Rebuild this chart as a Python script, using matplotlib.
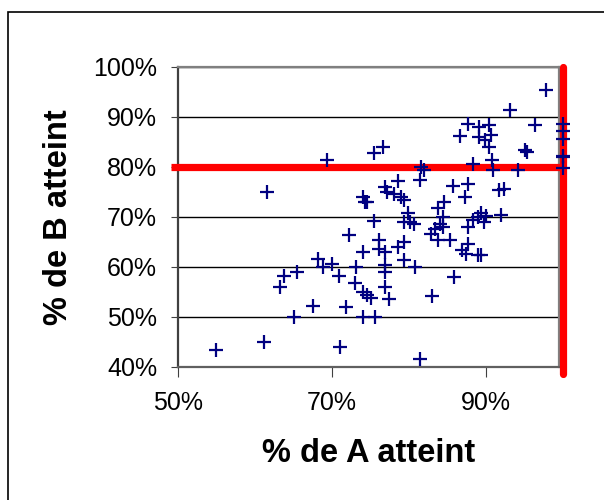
import matplotlib
matplotlib.use("Agg")
import matplotlib.pyplot as plt
from matplotlib.ticker import PercentFormatter
from matplotlib.patches import Rectangle

plt.rcParams['font.family'] = ['Liberation Sans', 'DejaVu Sans']

# % de A atteint (x) and % de B atteint (y), in percent
a_pct = [54.9, 61.2, 61.6, 63.2, 63.8, 65.4, 65.1, 67.5, 68.2, 68.8,
         69.3, 70.0, 70.9, 71.0, 71.8, 72.2, 73.1, 73.0, 74.0, 74.0,
         74.0, 74.0, 74.3, 74.6, 74.6, 75.1, 75.6, 75.5, 75.5, 76.6,
         76.1, 76.1, 76.9, 77.1, 76.9, 76.9, 76.9, 76.9, 77.4, 78.0,
         78.6, 78.9, 79.3, 78.6, 79.3, 79.3, 79.3, 79.9, 80.1, 80.6,
         80.8, 81.4, 81.4, 81.6, 81.9, 83.0, 82.9, 83.4, 83.8, 83.8,
         84.0, 84.4, 84.6, 84.4, 85.3, 85.8, 85.7, 86.6, 87.6, 87.6,
         87.3, 88.3, 86.9, 87.4, 87.6, 87.6, 88.3, 89.1, 89.1, 88.9,
         89.4, 88.9, 89.4, 89.8, 90.0, 89.9, 90.4, 90.4, 90.6, 90.8,
         90.9, 91.7, 92.3, 92.0, 93.1, 94.1, 95.0, 95.3, 96.4, 97.8,
         100.0, 100.0, 100.0, 100.0, 100.0, 100.0]
b_pct = [43.4, 45.0, 74.9, 56.0, 58.3, 59.1, 50.0, 52.2, 61.7, 60.1,
         81.4, 60.7, 58.2, 44.1, 52.1, 66.5, 60.1, 56.9, 63.1, 55.1,
         50.0, 73.9, 73.1, 72.9, 54.4, 53.9, 50.0, 69.2, 82.7, 84.0,
         65.4, 63.7, 76.0, 75.0, 63.1, 60.4, 59.1, 56.1, 53.6, 74.6,
         77.2, 74.1, 73.4, 64.1, 65.1, 61.4, 69.1, 70.7, 69.1, 68.7,
         60.1, 41.6, 77.4, 80.0, 79.5, 54.2, 66.7, 67.7, 65.4, 71.7,
         68.7, 70.1, 73.1, 68.1, 65.5, 58.0, 76.2, 86.2, 88.7, 76.7,
         74.1, 80.7, 63.4, 62.7, 64.7, 68.1, 69.4, 88.0, 86.0, 62.4,
         62.4, 70.1, 70.7, 69.1, 70.2, 85.4, 88.4, 84.0, 86.4, 81.5,
         79.4, 75.5, 75.7, 70.4, 91.5, 79.5, 83.4, 83.0, 88.4, 95.5,
         88.7, 87.3, 85.7, 82.3, 82.0, 79.9]

target_a = 1.0
target_b = 0.8
x_ticks = [0.5, 0.7, 0.9]
y_ticks = [0.4, 0.5, 0.6, 0.7, 0.8, 0.9, 1.0]

a = [v / 100 for v in a_pct]
b = [v / 100 for v in b_pct]

fig = plt.figure(figsize=(6.04, 5.0), dpi=100)
ax = fig.add_axes([178 / 604, 1 - 367 / 500, 381 / 604, 300 / 500])

ax.set_xlim(0.5, 0.9948)
ax.set_ylim(0.4, 1.0)
ax.set_xticks(x_ticks)
ax.set_yticks(y_ticks)
ax.xaxis.set_major_formatter(PercentFormatter(1.0, decimals=0))
ax.yaxis.set_major_formatter(PercentFormatter(1.0, decimals=0))

ax.grid(axis='y', color='black', lw=1.0, zorder=0)
ax.set_axisbelow(True)
for s in ax.spines.values():
    s.set_color('#808080')
    s.set_linewidth(1.6)
ax.spines['left'].set_color('#404040')
ax.spines['bottom'].set_color('#606060')

ax.tick_params(axis='both', labelsize=18, direction='out', color='#404040')
ax.tick_params(axis='y', length=5, pad=10)
ax.tick_params(axis='x', length=7, pad=10)

# target lines
ax.plot([0.4909, target_a], [target_b, target_b], color='#ff0000', lw=5.2,
        solid_capstyle='butt', clip_on=False, zorder=3)
ax.plot([target_a, target_a], [0.386, 1.0], color='#ff0000', lw=5.2,
        solid_capstyle='round', clip_on=False, zorder=3)

ax.plot(a, b, linestyle='none', marker='+', color='#000080', markersize=10.5,
        markeredgewidth=1.6, clip_on=False, zorder=4)

ax.set_xlabel('% de A atteint', fontsize=23.5, fontweight='bold', va='center')
ax.xaxis.set_label_coords(0.5, (367 - 454) / 300)
ax.set_ylabel('% de B atteint', fontsize=23.5, fontweight='bold', va='center')
ax.yaxis.set_label_coords((58 - 178) / 381, 0.5)

# outer chart border
fig.patches.append(Rectangle((8 / 604, -0.1), 1.2, 1 - 12 / 500 + 0.1,
                             transform=fig.transFigure, fill=False,
                             edgecolor='black', lw=1.2))

fig.savefig('out.png', dpi=100)
